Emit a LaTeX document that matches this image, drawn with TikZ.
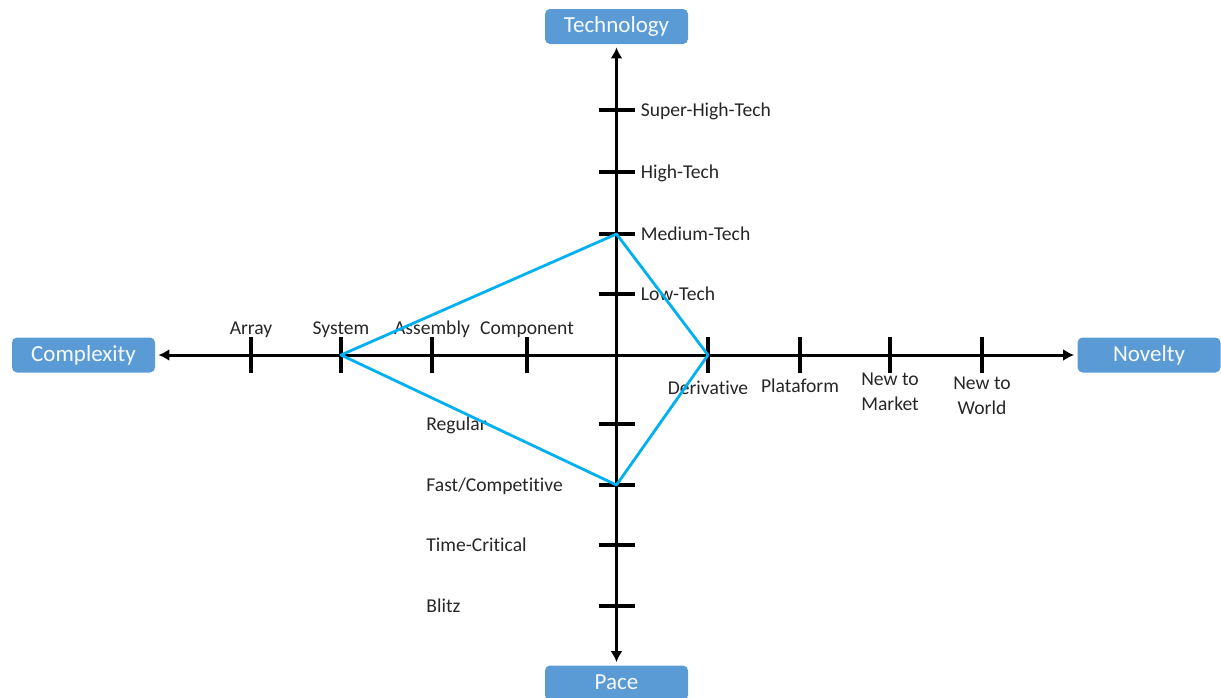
\documentclass[tikz,border=0pt]{standalone}
\usepackage{fontspec}
\setmainfont{Carlito}[Ligatures=NoCommon]
\usetikzlibrary{arrows.meta,positioning}

\definecolor{boxblue}{RGB}{91,155,213}
\definecolor{profileblue}{RGB}{0,176,240}

\tikzset{
  dim box/.style={
    fill=boxblue,
    rounded corners=2.5pt,
    minimum width=71.5pt,
    minimum height=17.5pt,
    inner sep=0pt,
    text height=0.63em,
    text depth=0pt,
    text=white!95!boxblue,
    font=\fontsize{11.5}{13}\selectfont
  },
  axis/.style={
    line width=1.5pt,
    {Latex[length=5.5pt,width=6pt]}-{Latex[length=5.5pt,width=6pt]},
    shorten <=1.5pt,
    shorten >=1.5pt
  },
  tick/.style={
    line width=1.6pt
  },
  lbl/.style={
    inner sep=0pt,
    text=black!85,
    text height=0.63em,
    text depth=0pt,
    font=\fontsize{9.8}{12.5}\selectfont
  },
  lbl below/.style={
    inner sep=0pt,
    text=black!85,
    align=center,
    font=\fontsize{9.8}{12.5}\selectfont
  },
  profile/.style={
    draw=profileblue,
    line width=1.4pt,
    line join=round
  }
}

\begin{document}
\begin{tikzpicture}[x=0.5pt, y=-0.5pt]
    \useasboundingbox (0,0) rectangle (1221,697);

    % dimension boxes
    \node[dim box] (tech) at (616.5,26.5) {Technology};
    \node[dim box] (cplx) at (83.5,355) {Complexity};
    \node[dim box] (nov) at (1149,355) {Novelty};
    \node[dim box] (pace) at (616.5,683) {Pace};

    % axes
    \draw[axis] (tech) -- (pace);
    \draw[axis] (cplx) -- (nov);

    % tick positions
    \coordinate (th1) at (616.5,110);
    \coordinate (th2) at (616.5,172);
    \coordinate (th3) at (616.5,234);
    \coordinate (th4) at (616.5,294);
    \coordinate (pc1) at (616.5,424);
    \coordinate (pc2) at (616.5,485);
    \coordinate (pc3) at (616.5,545);
    \coordinate (pc4) at (616.5,606);
    \coordinate (cx1) at (251,355);
    \coordinate (cx2) at (341,355);
    \coordinate (cx3) at (432,355);
    \coordinate (cx4) at (527,355);
    \coordinate (nv1) at (708,355);
    \coordinate (nv2) at (800,355);
    \coordinate (nv3) at (890,355);
    \coordinate (nv4) at (982,355);

    \draw[tick]
      (th1) +(-18,0) -- +(18,0)
      (th2) +(-18,0) -- +(18,0)
      (th3) +(-18,0) -- +(18,0)
      (th4) +(-18,0) -- +(18,0)
      (pc1) +(-18,0) -- +(18,0)
      (pc2) +(-18,0) -- +(18,0)
      (pc3) +(-18,0) -- +(18,0)
      (pc4) +(-18,0) -- +(18,0);
    \draw[tick]
      (cx1) +(0,-18) -- +(0,18)
      (cx2) +(0,-18) -- +(0,18)
      (cx3) +(0,-18) -- +(0,18)
      (cx4) +(0,-18) -- +(0,18)
      (nv1) +(0,-18) -- +(0,18)
      (nv2) +(0,-18) -- +(0,18)
      (nv3) +(0,-18) -- +(0,18)
      (nv4) +(0,-18) -- +(0,18);

    % technology levels
    \node[lbl, right=12pt of th1] (sht) {Super-High-Tech};
    \node[lbl, right=12pt of th2] (ht) {High-Tech};
    \node[lbl, right=12pt of th3] (mt) {Medium-Tech};
    \node[lbl, right=12pt of th4] (lt) {Low-Tech};

    % pace levels
    \node[lbl, anchor=west] (reg) at (426,424) {Regular};
    \node[lbl, anchor=west] (fast) at (426,485) {Fast/Competitive};
    \node[lbl, anchor=west] (tcrit) at (426,545) {Time-Critical};
    \node[lbl, anchor=west] (blitz) at (426,606) {Blitz};

    % complexity levels
    \node[lbl, above=10pt of cx1] (arr) {Array};
    \node[lbl, above=10pt of cx2] (sys) {System};
    \node[lbl, above=10pt of cx3] (asm) {Assembly};
    \node[lbl, above=10pt of cx4] (comp) {Component};

    % novelty levels
    \node[lbl below, below=13pt of nv1] (deriv) {Derivative};
    \node[lbl below, below=11.5pt of nv2] (plat) {Plataform};
    \node[lbl below, below=9pt of nv3] (ntm) {New to\\Market};
    \node[lbl below, below=11pt of nv4] (ntw) {New to\\World};

    % project profile
    \draw[profile] (th3) -- (nv1) -- (pc2) -- (cx2) -- cycle;
\end{tikzpicture}
\end{document}
